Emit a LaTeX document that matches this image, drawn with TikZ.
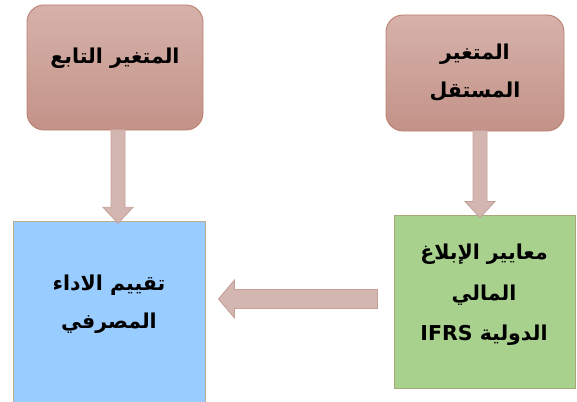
\documentclass[tikz,border=0pt]{standalone}
\usepackage{fontspec}
\usetikzlibrary{calc}
\newfontfamily\arabicfont[Script=Arabic]{DejaVu Sans}
\TeXXeTstate=1
\definecolor{boxTop}{RGB}{214,178,170}
\definecolor{boxBot}{RGB}{195,146,136}
\definecolor{boxLine}{RGB}{188,128,112}
\definecolor{blueFill}{RGB}{153,204,255}
\definecolor{blueLine}{RGB}{186,172,140}
\definecolor{greenFill}{RGB}{169,209,142}
\definecolor{greenLine}{RGB}{168,166,122}
\definecolor{arrFill}{RGB}{212,182,177}
\definecolor{arrLine}{RGB}{198,158,152}
\newcommand\blkdown[2]{\path[blk] let \p1=(#1), \p2=(#2) in (\x1-7pt,\y1) -- (\x1+7pt,\y1) -- (\x1+7pt,\y2+16pt) -- (\x1+15pt,\y2+16pt) -- (\x1,\y2) -- (\x1-15pt,\y2+16pt) -- (\x1-7pt,\y2+16pt) -- cycle;}
\newcommand\blkleft[2]{\path[blk] let \p1=(#1), \p2=(#2) in (\x1,\y1-9.5pt) -- (\x1,\y1+9.5pt) -- (\x2+16pt,\y1+9.5pt) -- (\x2+16pt,\y1+19pt) -- (\x2,\y1) -- (\x2+16pt,\y1-19pt) -- (\x2+16pt,\y1-9.5pt) -- cycle;}
\begin{document}
\begin{tikzpicture}[x=1pt,y=-1pt,
  topbox/.style={draw=boxLine, line width=0.9pt, rounded corners=17pt, top color=boxTop, bottom color=boxBot},
  bluebox/.style={draw=blueLine, line width=0.9pt, fill=blueFill},
  greenbox/.style={draw=greenLine, line width=0.9pt, fill=greenFill},
  blk/.style={draw=arrLine, line width=0.8pt, fill=arrFill},
  txt/.style={font=\arabicfont\bfseries\fontsize{20.5}{38}\selectfont, align=center, inner sep=0pt}]
\useasboundingbox (0,0) rectangle (577,401);
\clip (0,0) rectangle (577,401);
% boxes
\node[topbox, minimum width=176pt, minimum height=125pt] (dep) at (115,67.5) {};
\node[topbox, minimum width=178pt, minimum height=116pt] (indep) at (475,73) {};
\node[bluebox, minimum width=192.5pt, minimum height=182.3pt] (perf) at (109.25,312.85) {};
\node[greenbox, minimum width=181.5pt, minimum height=173pt] (ifrs) at (484.75,302) {};
% texts
\node[txt] (depT) at (115,58) {\beginR المتغير التابع\endR};
\node[txt] (indepT) at (475,73) {\beginR المتغير\endR\\\beginR المستقل\endR};
\node[txt] (perfT) at (109,304) {\beginR تقييم الاداء\endR\\\beginR المصرفي\endR};
\node[txt, font=\arabicfont\bfseries\fontsize{20.5}{40.5}\selectfont] (ifrsT) at (484,295) {\beginR معايير الإبلاغ\endR\\\beginR المالي\endR\\\beginR الدولية \beginL IFRS\endL\endR};
% arrow end points
\coordinate (a1s) at ($(dep.south)+(3,-1)$);
\coordinate (a1e) at ($(a1s |- perf.north)+(0,2)$);
\coordinate (a2s) at ($(indep.south)+(5,-1)$);
\coordinate (a2e) at ($(a2s |- ifrs.north)+(0,2.5)$);
\coordinate (a3s) at ($(ifrs.west)+(-16,-3)$);
\coordinate (a3e) at ($(perf.east |- a3s)+(12.5,0)$);
\blkdown{a1s}{a1e}
\blkdown{a2s}{a2e}
\blkleft{a3s}{a3e}
\end{tikzpicture}
\end{document}
